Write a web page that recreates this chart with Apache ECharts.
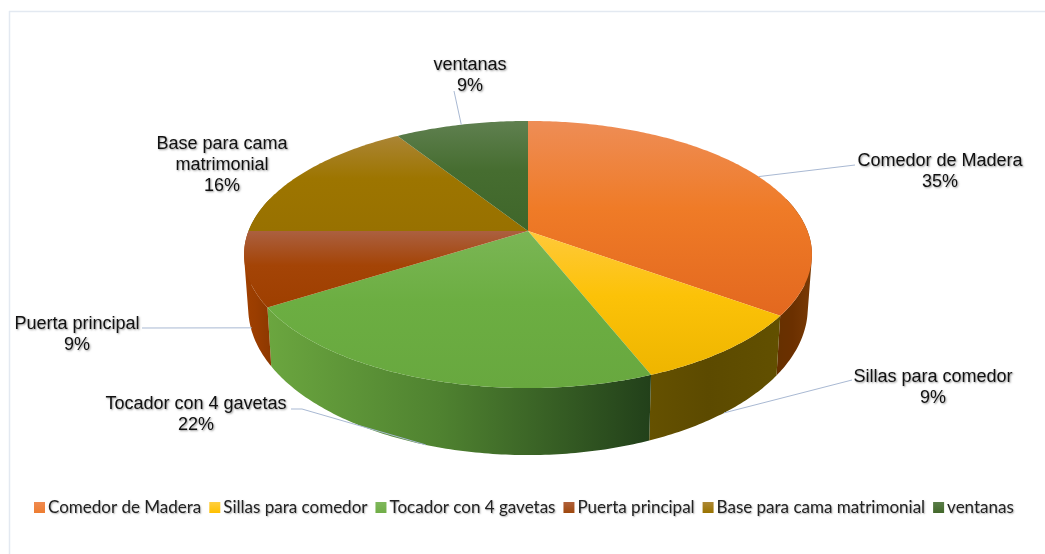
<!DOCTYPE html>
<html><head><meta charset="utf-8">
<style>html,body{margin:0;padding:0;background:#fff}#c{width:1045px;height:554px}</style>
<script src="https://cdn.jsdelivr.net/npm/echarts@6/dist/echarts.min.js"></script>
</head><body><div id="c"></div>
<script>
const categories = ['Comedor de Madera','Sillas para comedor','Tocador con 4 gavetas','Puerta principal','Base para cama matrimonial','ventanas'];
const values = [35,9,22,9,16,9];
const labelNames = ['Comedor de Madera','Sillas para comedor','Tocador con 4 gavetas','Puerta principal','Base para cama\nmatrimonial','ventanas'];

// styling
const topStops = [
 ['#ee8d56','#ef7b27','#e3681f'],
 ['#ffc93a','#fcc208','#eeb500'],
 ['#7bb655','#6cae42','#68a83f'],
 ['#ab6040','#a44406','#9e3f00'],
 ['#ab8535','#9d7500','#987100'],
 ['#5f8050','#466d30','#3f662a']];
const wallStops = [
 ['#663000','#6b3000','#7a3a05'],
 ['#655100','#5c4a00','#625000'],
 ['#6ba63f','#4f8230','#22401a'],
 ['#a04000','#9a3d00','#8c3800'],
 ['#7a5a00','#7a5a00','#7a5a00'],
 ['#33521f','#33521f','#33521f']];
const legendColors = ['#ed7d31','#ffc000','#70ad47','#9e480e','#997300','#43682b'];
const legendLight = ['#f08a50','#ffcf40','#7fb85c','#b0603a','#ad8835','#5a7d48'];
// label layout: text centre, leader path beyond the rim, surface of leader anchor
const labelPos = [[940,171.5],[933,387.5],[196,414.5],[77,335],[222,165],[470,76]];
const leaderEnd = [[[855,165]],[[852,380]],[[302,409],[291,409]],[[142,328]],null,[[454,91]]];
const leaderFace = ['top','side','side','side',null,'top'];
const leaderNudge = [[0,0],[0,0],[0,0],[2,4],[0,0],[0,0]];

const total = values.reduce((a,b)=>a+b,0);
const TOP = {cx:528,cy:231,a:279.5,b:129.4,k:0.176};
const BOT = {cx:528,cy:282,a:275.4,b:142.6,k:0.176};
function proj(f,t){
  const u=Math.sin(t),v=Math.cos(t),w=1+f.k*v;
  return [f.cx+f.a*u/w, f.cy-f.b*v/w];
}
function arc(f,t0,t1){
  const n=Math.max(2,Math.ceil(Math.abs(t1-t0)/(Math.PI/240)));
  const pts=[];
  for(let i=0;i<=n;i++) pts.push(proj(f,t0+(t1-t0)*i/n));
  return pts;
}
function grad(x2,y2,c){
  return new echarts.graphic.LinearGradient(0,0,x2,y2,[
    {offset:0,color:c[0]},{offset:0.45,color:c[1]},{offset:1,color:c[2]}]);
}
// one path made of consistently wound strips, so no seams and a filled silhouette
function sweptPath(a,b){
  let d='';
  for(let i=0;i<a.length-1;i++){
    let q=[a[i],a[i+1],b[i+1],b[i]];
    let s=0;
    for(let j=0;j<4;j++){const p=q[j],r=q[(j+1)%4]; s+=p[0]*r[1]-r[0]*p[1];}
    if(s<0) q.reverse();
    d+='M'+q.map(p=>p[0].toFixed(2)+' '+p[1].toFixed(2)).join('L')+'Z';
  }
  return d;
}
function renderSlice(idx){
  return function(params,api){
    const v=api.value(0);
    let before=0; for(let i=0;i<idx;i++) before+=values[i];
    const t0=before/total*2*Math.PI, t1=(before+v)/total*2*Math.PI, mid=(t0+t1)/2;
    const children=[];
    // outer wall, front part only
    const wa=Math.max(t0,75*Math.PI/180), wb=Math.min(t1,285*Math.PI/180);
    if(wb>wa){
      const a=arc(TOP,wa,wb), b=arc(BOT,wa,wb), xs=a.concat(b).map(p=>p[0]);
      const x0=Math.min.apply(null,xs), x1=Math.max.apply(null,xs);
      const c=wallStops[idx];
      const fill=new echarts.graphic.LinearGradient(x0,0,x1,0,[
        {offset:0,color:c[0]},{offset:0.45,color:c[1]},{offset:1,color:c[2]}],true);
      children.push({type:'path',z2:1,silent:true,shape:{pathData:sweptPath(a,b)},style:{fill:fill}});
    }
    // top face
    const face=[[TOP.cx,TOP.cy]].concat(arc(TOP,t0,t1));
    children.push({type:'polygon',z2:10,silent:true,shape:{points:face},style:{fill:grad(0,1,topStops[idx])}});
    // leader
    if(leaderFace[idx]){
      const s=proj(leaderFace[idx]==='top'?TOP:BOT,mid);
      const n=leaderNudge[idx];
      children.push({type:'polyline',z2:20,silent:true,shape:{points:[[s[0]+n[0],s[1]+n[1]]].concat(leaderEnd[idx])},
        style:{fill:'none',stroke:'#a9b9d3',lineWidth:1}});
    }
    // label
    children.push({type:'text',z2:30,silent:true,style:{
      text:labelNames[idx]+'\n'+Math.round(v/total*100)+'%',
      x:labelPos[idx][0],y:labelPos[idx][1],align:'center',verticalAlign:'middle',
      fontFamily:'Liberation Sans',fontSize:18,lineHeight:21,fill:'#111',
      textShadowColor:'rgba(0,0,0,0.4)',textShadowBlur:2,textShadowOffsetX:1,textShadowOffsetY:1}});
    return {type:'group',children};
  };
}
const chart=echarts.init(document.getElementById('c'),null,{renderer:'canvas'});
chart.setOption({
  backgroundColor:'#fff',
  animation:false,
  graphic:[
    {type:'line',shape:{x1:9,y1:11.5,x2:1045,y2:11.5},style:{stroke:'#e3e9f1',lineWidth:1.5}},
    {type:'line',shape:{x1:9.5,y1:11,x2:9.5,y2:554},style:{stroke:'#e3e9f1',lineWidth:1.5}}
  ],
  legend:{
    data:categories,left:34,top:499,orient:'horizontal',icon:'rect',itemWidth:11,itemHeight:11,itemGap:8,
    textStyle:{fontFamily:'Lato',fontSize:17,color:'#222',padding:[0,0,0,-2],
      textShadowColor:'rgba(0,0,0,0.3)',textShadowBlur:1.5,textShadowOffsetX:1,textShadowOffsetY:1},
    padding:0,selectedMode:false
  },
  series:categories.map((name,i)=>({
    type:'custom',name,coordinateSystem:'none',silent:true,
    itemStyle:{color:new echarts.graphic.LinearGradient(0,0,0,1,[{offset:0,color:legendLight[i]},{offset:1,color:legendColors[i]}])},
    renderItem:renderSlice(i),
    data:[[values[i]]]
  }))
});
</script></body></html>
